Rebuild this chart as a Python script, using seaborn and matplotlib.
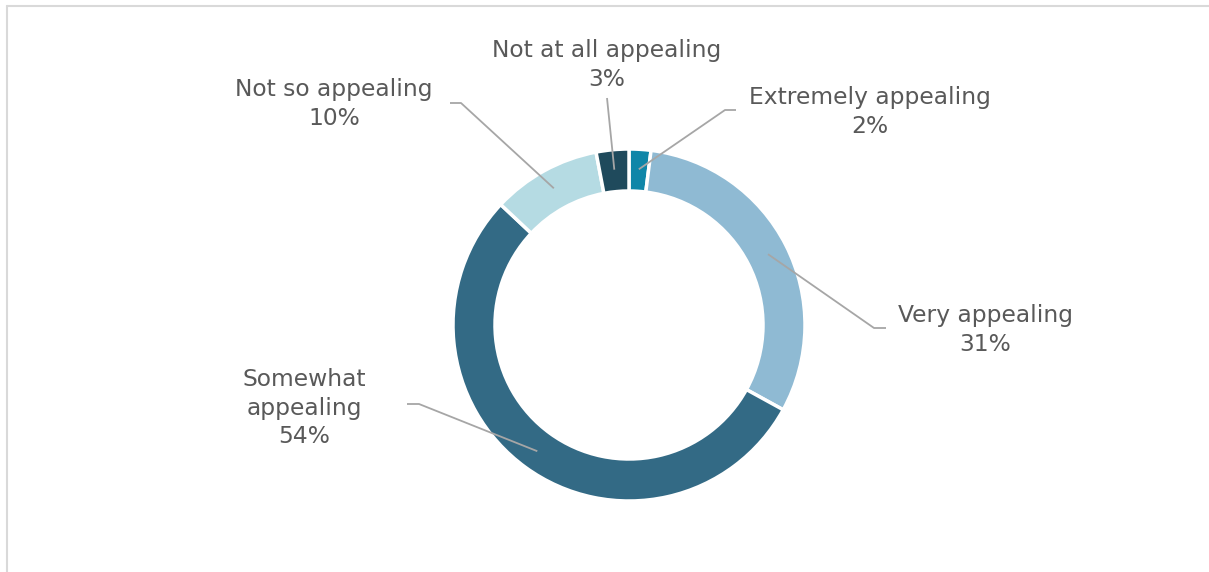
import matplotlib
matplotlib.use("Agg")
import matplotlib.pyplot as plt
import seaborn as sns
import numpy as np

# Survey responses: how appealing the concept is
categories = ["Extremely appealing", "Very appealing", "Somewhat appealing",
              "Not so appealing", "Not at all appealing"]
shares = [2, 31, 54, 10, 3]
label_texts = ["Extremely appealing\n2%", "Very appealing\n31%", "Somewhat\nappealing\n54%",
               "Not so appealing\n10%", "Not at all appealing\n3%"]
colors = ["#0f86a8", "#8fbad3", "#336a85", "#b5dbe3", "#1f4a5c"]

sns.set_theme(style="white")
plt.rcParams["font.family"] = ["DejaVu Sans"]

W, H = 1209, 572
fig = plt.figure(figsize=(W / 100, H / 100), dpi=100)
ax = fig.add_axes([0, 0, 1, 1])

cx, cy, r_out, ring = 629, H - 325, 176, 42
wedges, _ = ax.pie(shares, colors=colors, startangle=90, counterclock=False,
                   center=(cx, cy), radius=r_out,
                   wedgeprops=dict(width=ring, edgecolor="white", linewidth=2.5),
                   frame=True)
ax.set_xlim(0, W)
ax.set_ylim(0, H)
ax.set_aspect("equal")
ax.axis("off")

# Label text centres and leader elbows (x, y measured from top of figure)
text_pos = [(870, 112), (985, 330), (304, 408), (334, 104), (607, 65)]
elbows = [[(725, 110), (736, 110)],
          [(874, 328), (886, 328)],
          [(419, 404), (407, 404)],
          [(461, 103), (450, 103)],
          [(607, 98)]]

lead_r = r_out - ring / 2 + 1
for w, txt, (tx, ty), elb in zip(wedges, label_texts, text_pos, elbows):
    mid = np.deg2rad((w.theta1 + w.theta2) / 2)
    x0 = cx + lead_r * np.cos(mid)
    y0 = cy + lead_r * np.sin(mid)
    xs = [x0] + [p[0] for p in elb]
    ys = [y0] + [H - p[1] for p in elb]
    ax.plot(xs, ys, color="#a6a6a6", lw=1.3, solid_capstyle="butt", zorder=3)
    ax.text(tx, H - ty, txt, ha="center", va="center", fontsize=16.8,
            color="#595959", linespacing=1.28, zorder=4)

# Chart area border along the top and left edges
ax.plot([7, W], [H - 6, H - 6], color="#d9d9d9", lw=1.5, clip_on=False)
ax.plot([7, 7], [H - 6, 0], color="#d9d9d9", lw=1.5, clip_on=False)

fig.savefig("out.png", dpi=100, facecolor="white")
